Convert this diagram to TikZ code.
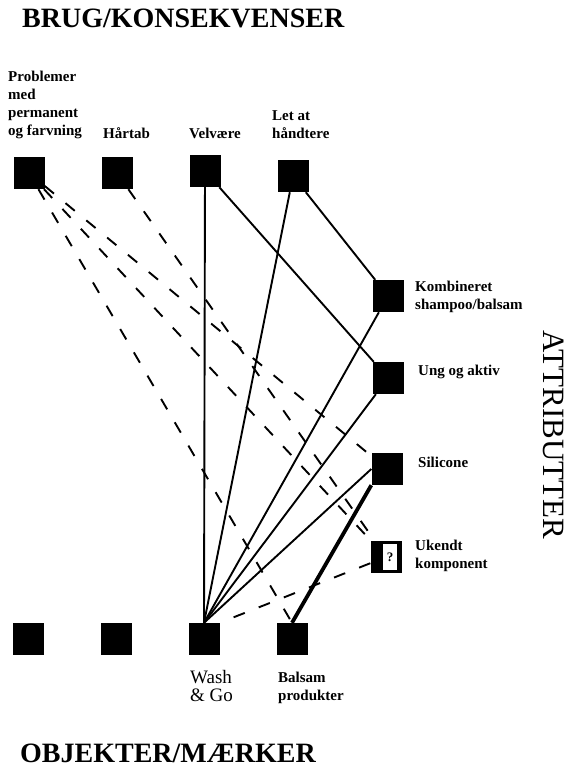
\documentclass[tikz,border=0pt]{standalone}
\usepackage{fontspec}
\setmainfont{Liberation Serif}
\begin{document}
\begin{tikzpicture}[x=1pt,y=-1pt,
    box/.style={fill=black, minimum width=31pt, minimum height=32pt, inner sep=0pt},
    lbl/.style={font=\bfseries\fontsize{15}{18}\selectfont, align=left, inner sep=0pt},
    head/.style={font=\bfseries\fontsize{28}{30}\selectfont, inner sep=0pt},
    link/.style={line width=1.9pt},
    weak/.style={line width=1.9pt, dash pattern=on 12pt off 15pt}]
    \useasboundingbox (0,0) rectangle (571,771);

    % headings
    \node[head, anchor=west] (hbrug) at (22,18) {BRUG/KONSEKVENSER};
    \node[head, anchor=west] (hobj) at (20,753) {OBJEKTER/MÆRKER};
    \node[head, font=\fontsize{31}{33}\selectfont, rotate=-90] (hattr) at (554,435) {ATTRIBUTTER};

    % top row: brug/konsekvenser
    \node[box] (prob) at (29,173) {};
    \node[box] (hartab) at (117,173) {};
    \node[box] (velv) at (205,171) {};
    \node[box] (let) at (293,176) {};
    \node[lbl, anchor=south west] (tprob) at (8,139) {Problemer\\med\\permanent\\og farvning};
    \node[lbl, anchor=south west] (thartab) at (103,139) {Hårtab};
    \node[lbl, anchor=south west] (tvelv) at (189,139) {Velvære};
    \node[lbl, anchor=south west] (tlet) at (272,139) {Let at\\håndtere};

    % right column: attributter
    \node[box] (komb) at (388,296) {};
    \node[box] (ung) at (388,378) {};
    \node[box] (sil) at (387,469) {};
    \node[box] (uk) at (386,557) {};
    \node[fill=white, minimum width=14pt, minimum height=26pt, inner sep=0pt,
          font=\bfseries\fontsize{13}{14}\selectfont] (ukq) at ([xshift=4pt]uk.center) {?};
    \node[lbl, anchor=west] (tkomb) at (415,297) {Kombineret\\shampoo/balsam};
    \node[lbl, anchor=west] (tung) at (418,372) {Ung og aktiv};
    \node[lbl, anchor=west] (tsil) at (418,462) {Silicone};
    \node[lbl, anchor=west] (tuk) at (415,556) {Ukendt\\komponent};

    % bottom row: objekter/maerker
    \node[box] (obj1) at (28,639) {};
    \node[box] (obj2) at (116,639) {};
    \node[box] (wash) at (204,639) {};
    \node[box] (balsam) at (292,639) {};
    \node[lbl, font=\fontsize{19}{18}\selectfont, anchor=north west] (twash) at (190,670) {Wash\\\& Go};
    \node[lbl, anchor=north west] (tbalsam) at (278,672) {Balsam\\produkter};

    % solid links
    \draw[link] (velv) -- (wash.north);
    \draw[link] (velv) -- (ung);
    \draw[link] (let) -- (komb);
    \draw[link] (let) -- (wash.north);
    \draw[link] (komb) -- (wash.north);
    \draw[link] (ung) -- (wash.north);
    \draw[link] (sil.west) -- (wash.north);
    \draw[link, line width=3.8pt] (sil.south west) -- (balsam.north);

    % dashed links
    \draw[weak] (prob) -- (sil);
    \draw[weak] (prob) -- (uk);
    \draw[weak] (prob) -- (balsam.north);
    \draw[weak] (hartab) -- (uk);
    \draw[weak] (uk) -- (wash.north east);
\end{tikzpicture}
\end{document}
